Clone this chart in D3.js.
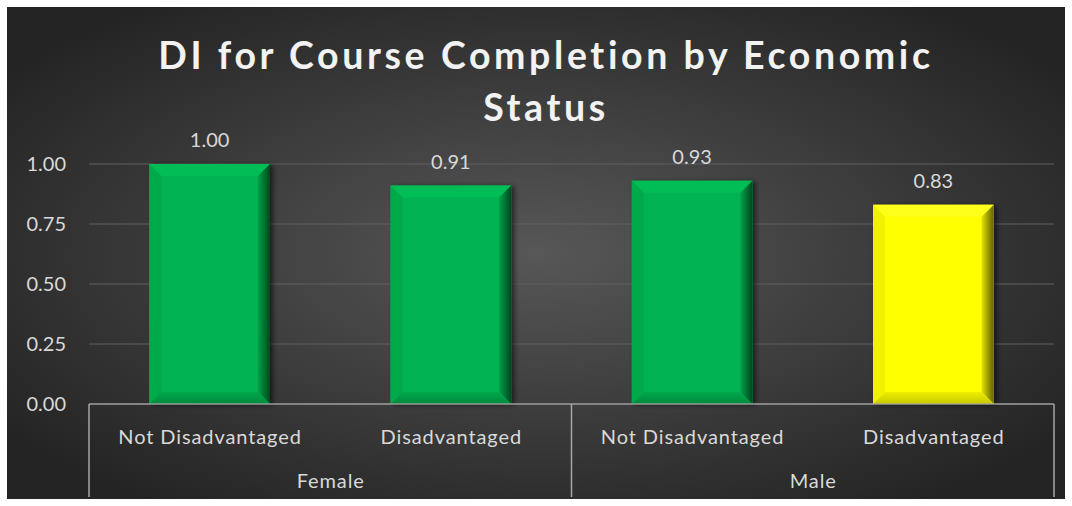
<!DOCTYPE html>
<html>
<head>
<meta charset="utf-8">
<script src="https://cdn.jsdelivr.net/npm/d3@7/dist/d3.min.js"></script>
<style>
  body { margin: 0; background: #ffffff; }
  svg text { font-family: Lato, "Open Sans", sans-serif; }
</style>
</head>
<body>
<svg id="chart" width="1072" height="506"></svg>
<script>
// chart data
var subLabels = ["Not Disadvantaged", "Disadvantaged", "Not Disadvantaged", "Disadvantaged"];
var groupLabels = ["Female", "Male"];
var values = [1.00, 0.91, 0.93, 0.83];
var barColors = ["green", "green", "green", "yellow"];
var yTicks = [0, 0.25, 0.5, 0.75, 1.0];

var svg = d3.select("#chart"),
    MARGINS = { top: 164, right: 18, bottom: 102, left: 89 },
    WIDTH = 1072, HEIGHT = 506;

var defs = svg.append("defs");

var bg = defs.append("radialGradient").attr("id", "bg")
    .attr("cx", "50%").attr("cy", "50%").attr("r", "62%");
bg.append("stop").attr("offset", "0%").attr("stop-color", "#575757");
bg.append("stop").attr("offset", "100%").attr("stop-color", "#242424");

var shadow = defs.append("filter").attr("id", "shadow")
    .attr("x", "-20%").attr("y", "-20%").attr("width", "140%").attr("height", "140%");
shadow.append("feDropShadow").attr("dx", 3).attr("dy", 1)
    .attr("stdDeviation", 2.5).attr("flood-color", "#000").attr("flood-opacity", 0.55);

var palette = {
  green:  { face: "#00b251", top: "#00bd55", left: "#00aa4c", right1: "#00a049", right2: "#00461f", bottom1: "#00a74b", bottom2: "#008a3d" },
  yellow: { face: "#ffff00", top: "#ffff1a", left: "#f2f200", right1: "#e0e000", right2: "#626200", bottom1: "#eeee00", bottom2: "#c8c800" }
};
Object.keys(palette).forEach(function(k) {
  var g = defs.append("linearGradient").attr("id", "right-" + k)
      .attr("x1", "0").attr("x2", "1").attr("y1", "0").attr("y2", "0");
  g.append("stop").attr("offset", "0%").attr("stop-color", palette[k].right1);
  g.append("stop").attr("offset", "100%").attr("stop-color", palette[k].right2);
  var gb = defs.append("linearGradient").attr("id", "bottom-" + k)
      .attr("x1", "0").attr("x2", "0").attr("y1", "0").attr("y2", "1");
  gb.append("stop").attr("offset", "0%").attr("stop-color", palette[k].bottom1);
  gb.append("stop").attr("offset", "100%").attr("stop-color", palette[k].bottom2);
});

// chart area background
svg.append("rect")
    .attr("x", 7).attr("y", 7)
    .attr("width", 1058).attr("height", 492)
    .attr("fill", "url(#bg)");

var xScale = d3.scaleBand()
    .domain(d3.range(values.length))
    .range([MARGINS.left, WIDTH - MARGINS.right])
    .paddingInner(0.5).paddingOuter(0.25);

var yScale = d3.scaleLinear()
    .domain([0, 1])
    .range([HEIGHT - MARGINS.bottom, MARGINS.top]);

// gridlines
svg.append("g")
    .attr("class", "grid")
    .selectAll("line")
    .data(yTicks)
    .enter().append("line")
    .attr("x1", MARGINS.left).attr("x2", WIDTH - MARGINS.right)
    .attr("y1", function(d) { return yScale(d); })
    .attr("y2", function(d) { return yScale(d); })
    .attr("stroke", "#606060").attr("stroke-width", 1.2);

// y axis labels
var yAxis = d3.axisLeft(yScale).tickValues(yTicks).tickFormat(d3.format(".2f")).tickSize(0).tickPadding(23);
svg.append("g")
    .attr("transform", "translate(" + MARGINS.left + ",0)")
    .call(yAxis)
    .call(function(g) { g.select(".domain").remove(); })
    .selectAll("text")
    .attr("fill", "#d9d9d9")
    .style("font-size", "20px")
    .style("font-family", "Lato, sans-serif");

// bars with bevel
var bars = svg.append("g").selectAll("g.bar")
    .data(values)
    .enter().append("g")
    .attr("class", "bar")
    .attr("filter", "url(#shadow)");

bars.each(function(d, i) {
  var g = d3.select(this),
      c = palette[barColors[i]],
      x0 = xScale(i), x1 = xScale(i) + xScale.bandwidth(),
      y0 = yScale(d), y1 = yScale(0),
      b = 12;
  function pts(p) { return p.map(function(q) { return q.join(","); }).join(" "); }
  g.append("rect").attr("x", x0).attr("y", y0).attr("width", x1 - x0).attr("height", y1 - y0).attr("fill", c.face);
  g.append("polygon").attr("points", pts([[x0, y0], [x1, y0], [x1 - b, y0 + b], [x0 + b, y0 + b]])).attr("fill", c.top);
  g.append("polygon").attr("points", pts([[x0, y0], [x0 + b, y0 + b], [x0 + b, y1 - b], [x0, y1]])).attr("fill", c.left);
  g.append("polygon").attr("points", pts([[x1, y0], [x1, y1], [x1 - b, y1 - b], [x1 - b, y0 + b]])).attr("fill", "url(#right-" + barColors[i] + ")");
  g.append("polygon").attr("points", pts([[x0, y1], [x1, y1], [x1 - b, y1 - b], [x0 + b, y1 - b]])).attr("fill", "url(#bottom-" + barColors[i] + ")");
});

// value labels
svg.append("g").selectAll("text")
    .data(values)
    .enter().append("text")
    .attr("x", function(d, i) { return xScale(i) + xScale.bandwidth() / 2; })
    .attr("y", function(d) { return yScale(d) - 17; })
    .attr("text-anchor", "middle")
    .attr("fill", "#d9d9d9")
    .style("font-size", "20px")
    .text(function(d) { return d3.format(".2f")(d); });

// category axis (two levels)
var axisY = yScale(0), axisBottom = 497;
var axisG = svg.append("g").attr("stroke", "#a6a6a6").attr("stroke-width", 1.5).attr("fill", "none");
axisG.append("line")
    .attr("x1", MARGINS.left).attr("x2", WIDTH - MARGINS.right)
    .attr("y1", axisY).attr("y2", axisY)
    .attr("stroke-opacity", 0.85);

var groupSize = values.length / groupLabels.length;
var groupEdges = d3.range(groupLabels.length + 1).map(function(k) {
  return MARGINS.left + k * groupSize * (WIDTH - MARGINS.right - MARGINS.left) / values.length;
});
axisG.selectAll("line.sep")
    .data(groupEdges)
    .enter().append("line")
    .attr("class", "sep")
    .attr("x1", function(d) { return d; }).attr("x2", function(d) { return d; })
    .attr("y1", axisY).attr("y2", axisBottom);

svg.append("g").selectAll("text")
    .data(subLabels)
    .enter().append("text")
    .attr("x", function(d, i) { return xScale(i) + xScale.bandwidth() / 2 + 0.45; })
    .attr("y", 444)
    .attr("text-anchor", "middle")
    .attr("fill", "#d9d9d9")
    .style("font-size", "20px")
    .style("letter-spacing", "0.9px")
    .text(function(d) { return d; });

svg.append("g").selectAll("text")
    .data(groupLabels)
    .enter().append("text")
    .attr("x", function(d, k) { return (groupEdges[k] + groupEdges[k + 1]) / 2 + 0.45; })
    .attr("y", 488)
    .attr("text-anchor", "middle")
    .attr("fill", "#d9d9d9")
    .style("font-size", "20px")
    .style("letter-spacing", "0.9px")
    .text(function(d) { return d; });

// title
var title = svg.append("text")
    .attr("text-anchor", "middle")
    .attr("fill", "#f2f2f2")
    .style("font-size", "37.5px")
    .style("font-weight", "bold")
    .style("letter-spacing", "3.6px");
title.append("tspan").attr("x", 546).attr("y", 69).text("DI for Course Completion by Economic");
title.append("tspan").attr("x", 546).attr("y", 121).text("Status");
</script>
</body>
</html>
